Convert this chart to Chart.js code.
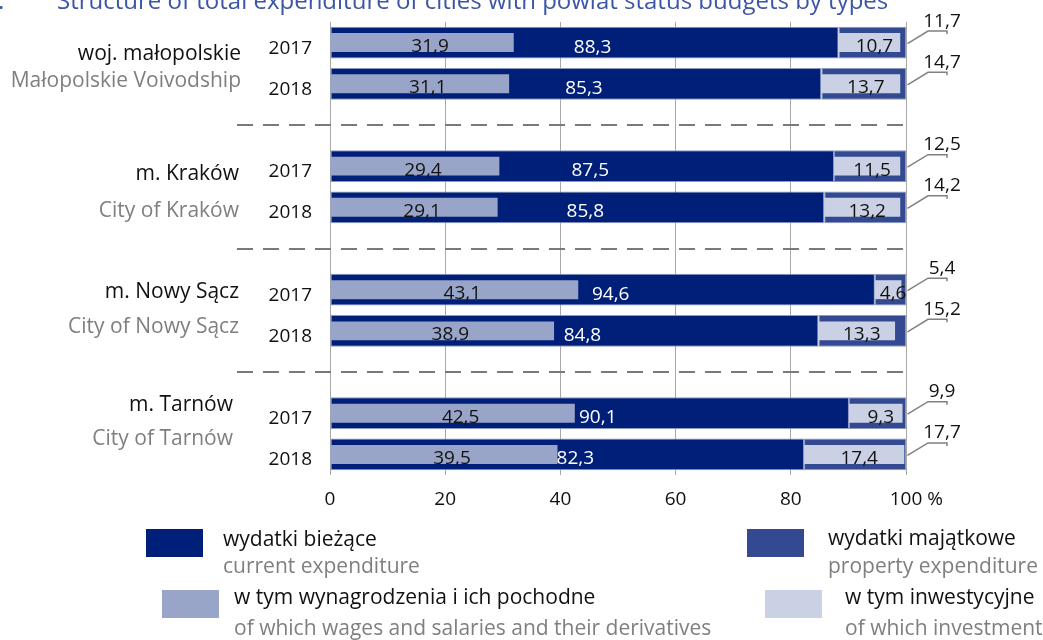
<!DOCTYPE html>
<html lang="pl">
<head>
<meta charset="UTF-8">
<title>Structure of total expenditure of cities with powiat status budgets by types</title>
<script src="https://cdn.jsdelivr.net/npm/chart.js@4"></script>
<style>
  html, body { margin: 0; padding: 0; background: #fff; }
  .wrap { position: relative; width: 1043px; height: 640px; }
</style>
</head>
<body>
<div class="wrap"><canvas id="chart" width="1043" height="640"></canvas></div>
<script>
// rows top to bottom, empty rows are the gaps with dashed separators
const rowYears   = ['2017', '2018', '', '2017', '2018', '', '2017', '2018', '', '2017', '2018'];
const current    = [88.3, 85.3, null, 87.5, 85.8, null, 94.6, 84.8, null, 90.1, 82.3];
const property   = [11.7, 14.7, null, 12.5, 14.2, null, 5.4, 15.2, null, 9.9, 17.7];
const wages      = [31.9, 31.1, null, 29.4, 29.1, null, 43.1, 38.9, null, 42.5, 39.5];
const investment = [10.7, 13.7, null, 11.5, 13.2, null, 4.6, 13.3, null, 9.3, 17.4];
const groupPl = ['woj. małopolskie', 'm. Kraków', 'm. Nowy Sącz', 'm. Tarnów'];
const groupEn = ['Małopolskie Voivodship', 'City of Kraków', 'City of Nowy Sącz', 'City of Tarnów'];
const xTicks = [0, 20, 40, 60, 80, 100];

const FONT = '"Open Sans", "Noto Sans", sans-serif';
const COLORS = {
  current: '#001f78',
  property: '#334a93',
  wages: '#98a5c8',
  investment: '#cbd1e4',
  text: '#111111',
  grey: '#7f7f7f',
  title: '#3c55a4'
};
// [right edge, baseline offset from 2017 bar, baseline offset from 2018 bar]
const groupLabelPos = [[241, 17.5, 3.5], [239, 14, 10], [239, 8, 2.5], [233, -2.5, -9]];

const fmt = v => v.toFixed(1).replace('.', ',');

const decor = {
  id: 'decor',
  beforeDatasetsDraw(chart) {
    const { ctx, chartArea: area, scales: { y } } = chart;
    ctx.save();
    ctx.strokeStyle = '#7a7a7a';
    ctx.lineWidth = 2;
    ctx.setLineDash([16, 10]);
    rowYears.forEach((yr, i) => {
      if (yr) return;
      const py = Math.round(y.getPixelForValue(i));
      ctx.beginPath();
      ctx.moveTo(237, py);
      ctx.lineTo(area.right, py);
      ctx.stroke();
    });
    ctx.restore();
  },
  afterDraw(chart) {
    const { ctx, chartArea: area, scales: { x, y } } = chart;
    ctx.save();

    // title, cut off by the top edge
    ctx.font = `24px ${FONT}`;
    ctx.fillStyle = COLORS.title;
    ctx.textAlign = 'left';
    ctx.textBaseline = 'alphabetic';
    ctx.fillText('.', -2, 9);
    ctx.fillText('Structure of total expenditure of cities with powiat status budgets by types', 57, 9);

    // year labels
    ctx.font = `19px ${FONT}`;
    ctx.fillStyle = COLORS.text;
    ctx.textAlign = 'right';
    rowYears.forEach((yr, i) => {
      if (!yr) return;
      ctx.fillText(yr, 312, y.getPixelForValue(i) + 11);
    });

    // group labels
    ctx.font = `21px ${FONT}`;
    groupPl.forEach((name, g) => {
      const [right, d1, d2] = groupLabelPos[g];
      ctx.fillStyle = COLORS.text;
      ctx.fillText(name, right, y.getPixelForValue(g * 3) + d1);
      ctx.fillStyle = COLORS.grey;
      ctx.fillText(groupEn[g], right, y.getPixelForValue(g * 3 + 1) + d2);
    });

    // "%" after the last tick
    ctx.font = `19px ${FONT}`;
    ctx.textAlign = 'left';
    ctx.fillStyle = COLORS.text;
    const w100 = ctx.measureText('100').width;
    ctx.fillText(' %', x.getPixelForValue(100) + w100 / 2, 505);

    // values inside bars
    ctx.textAlign = 'center';
    const metaWages = chart.getDatasetMeta(0);
    const metaInv = chart.getDatasetMeta(1);
    const metaCur = chart.getDatasetMeta(2);
    const metaProp = chart.getDatasetMeta(3);
    metaWages.data.forEach((el, i) => {
      if (wages[i] == null) return;
      ctx.fillStyle = COLORS.text;
      ctx.fillText(fmt(wages[i]), (el.x + el.base) / 2 + 8, el.y + 9.5);
    });
    metaCur.data.forEach((el, i) => {
      if (current[i] == null) return;
      ctx.fillStyle = '#ffffff';
      ctx.fillText(fmt(current[i]), (el.x + el.base) / 2 + 8, el.y + 10);
    });
    metaInv.data.forEach((el, i) => {
      if (investment[i] == null) return;
      ctx.fillStyle = COLORS.text;
      ctx.fillText(fmt(investment[i]), (el.x + el.base) / 2 + 5, el.y + 9.5);
    });

    // property values outside with leader lines
    ctx.strokeStyle = '#808080';
    ctx.lineWidth = 1.5;
    metaProp.data.forEach((el, i) => {
      if (property[i] == null) return;
      const r = area.right;
      const yy = el.y;
      ctx.beginPath();
      ctx.moveTo(r + 1.5, yy + 1);
      ctx.lineTo(r + 22, yy - 11.5);
      ctx.lineTo(r + 41, yy - 11.5);
      ctx.lineTo(r + 41, yy - 8.5);
      ctx.stroke();
      ctx.fillStyle = COLORS.text;
      ctx.fillText(fmt(property[i]), r + 36, yy - 16);
    });

    // legend
    const legend = [
      { color: COLORS.current, box: [146, 529], text: [223, 546], gap: 27, pl: 'wydatki bieżące', en: 'current expenditure' },
      { color: COLORS.wages, box: [162, 590], text: [234, 604], gap: 31, pl: 'w tym wynagrodzenia i ich pochodne', en: 'of which wages and salaries and their derivatives' },
      { color: COLORS.property, box: [747, 529], text: [828, 545], gap: 28, pl: 'wydatki majątkowe', en: 'property expenditure' },
      { color: COLORS.investment, box: [765, 590], text: [845, 604], gap: 31, pl: 'w tym inwestycyjne', en: 'of which investment' }
    ];
    ctx.font = `21px ${FONT}`;
    ctx.textAlign = 'left';
    legend.forEach(item => {
      ctx.fillStyle = item.color;
      ctx.fillRect(item.box[0], item.box[1], 57, 28);
      ctx.fillStyle = COLORS.text;
      ctx.fillText(item.pl, item.text[0], item.text[1]);
      ctx.fillStyle = COLORS.grey;
      ctx.fillText(item.en, item.text[0], item.text[1] + item.gap);
    });

    ctx.restore();
  }
};

const toRange = (starts, lens) => lens.map((v, i) => v == null ? null : [starts ? starts[i] : 0, (starts ? starts[i] : 0) + v]);

new Chart(document.getElementById('chart'), {
  type: 'bar',
  data: {
    labels: rowYears,
    datasets: [
      {
        label: 'w tym wynagrodzenia i ich pochodne',
        data: toRange(null, wages),
        backgroundColor: COLORS.wages,
        barPercentage: 0.46,
        categoryPercentage: 1,
        grouped: false,
        order: 0
      },
      {
        label: 'w tym inwestycyjne',
        data: toRange(current, investment),
        backgroundColor: COLORS.investment,
        barPercentage: 0.46,
        categoryPercentage: 1,
        grouped: false,
        order: 0
      },
      {
        label: 'wydatki bieżące',
        data: toRange(null, current),
        backgroundColor: COLORS.current,
        borderColor: '#8c98c4',
        borderWidth: 1,
        borderSkipped: false,
        barPercentage: 0.77,
        categoryPercentage: 1,
        grouped: false,
        order: 1
      },
      {
        label: 'wydatki majątkowe',
        data: toRange(current, property),
        backgroundColor: COLORS.property,
        borderColor: '#8c98c4',
        borderWidth: 1,
        borderSkipped: false,
        barPercentage: 0.77,
        categoryPercentage: 1,
        grouped: false,
        order: 1
      }
    ]
  },
  options: {
    indexAxis: 'y',
    responsive: false,
    animation: false,
    layout: { padding: { left: 330, right: 137, top: 22, bottom: 0 } },
    plugins: {
      legend: { display: false },
      tooltip: { enabled: false }
    },
    scales: {
      x: {
        min: 0,
        max: 100,
        afterBuildTicks: s => { s.ticks = xTicks.map(v => ({ value: v })); },
        afterFit: s => { s.height = 165; },
        grid: { color: '#a8a8a8', drawTicks: false, lineWidth: 1 },
        border: { display: false },
        ticks: {
          padding: 13,
          color: COLORS.text,
          font: { family: FONT, size: 19 },
          callback: v => String(v)
        }
      },
      y: {
        display: false
      }
    }
  },
  plugins: [decor]
});
</script>
</body>
</html>
